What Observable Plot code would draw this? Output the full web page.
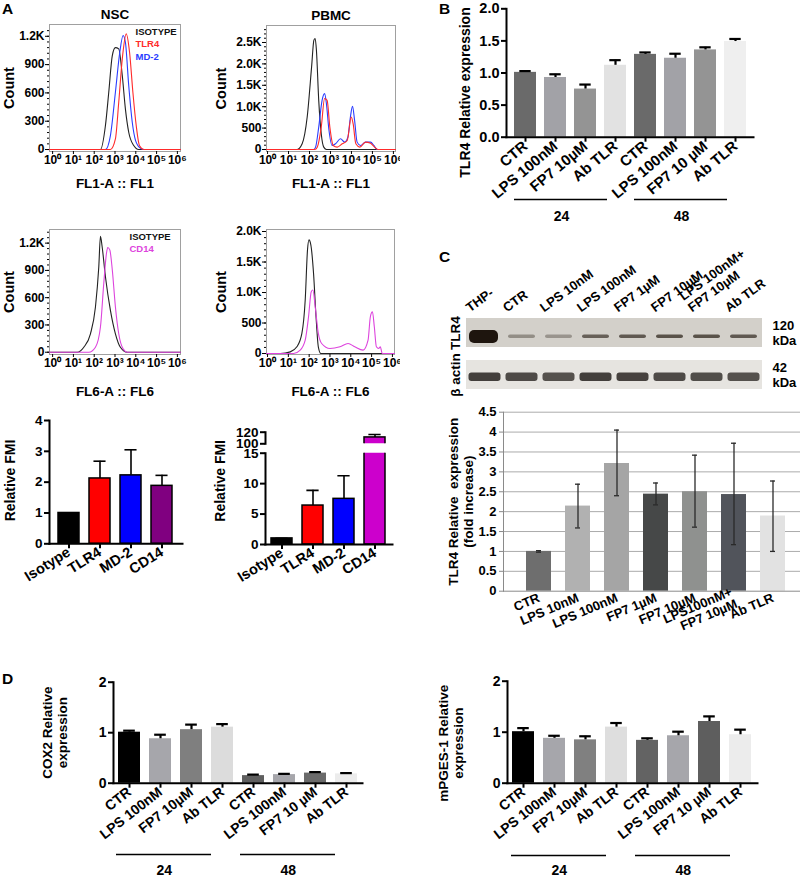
<!DOCTYPE html>
<html><head><meta charset="utf-8">
<script src="https://cdn.jsdelivr.net/npm/d3@7"></script>
<script src="https://cdn.jsdelivr.net/npm/@observablehq/plot@0.6"></script>
<style>
html,body{margin:0;padding:0;background:#fff;}
#fig{position:relative;width:800px;height:878px;overflow:hidden;background:#fff;font-family:'Liberation Sans',Arial,Helvetica,sans-serif;}
.letter{position:absolute;font-weight:bold;font-size:15.5px;line-height:15px;}
</style></head>
<body><div id="fig"></div>
<script>
// ======================= DATA =======================
const SUP = ["⁰","¹","²","³","⁴","⁵","⁶"];
const decades = [0,1,2,3,4,5,6];

// Panel A histograms: [log10 fluorescence, count]
const nscFl1Isotype = [[-0.15,0],[2.30,0],[2.54,254],[2.70,607],[2.87,996],[3.02,1080],[3.18,1067],[3.35,784],[3.50,431],[3.66,183],[3.90,42],[4.14,0],[6.15,0]];
const nscFl1TLR4 = [[-0.15,0],[2.78,0],[3.02,113],[3.18,501],[3.35,961],[3.54,1226],[3.70,1031],[3.86,607],[4.02,254],[4.18,39],[4.39,0],[6.15,0]];
const nscFl1MD2 = [[-0.15,0],[2.54,0],[2.78,148],[3.02,607],[3.23,1031],[3.39,1208],[3.50,1137],[3.66,678],[3.83,289],[3.99,95],[4.23,12],[4.39,0],[6.15,0]];

const pbmcFl1Isotype = [[-0.05,0],[1.41,0],[1.65,133],[1.89,758],[2.10,1930],[2.21,2555],[2.27,2594],[2.33,2320],[2.44,1148],[2.56,367],[2.68,55],[2.81,0],[6.1,0]];
const pbmcFl1MD2 = [[-0.05,0],[2.20,0],[2.29,55],[2.44,523],[2.60,1148],[2.72,1305],[2.81,1055],[2.92,484],[3.08,94],[3.24,133],[3.48,250],[3.67,172],[3.83,289],[3.95,758],[4.05,1008],[4.15,680],[4.27,172],[4.43,94],[4.67,172],[4.91,172],[5.07,94],[5.23,0],[6.1,0]];
const pbmcFl1TLR4 = [[-0.05,0],[2.25,0],[2.37,55],[2.56,523],[2.72,1190],[2.84,1148],[2.97,523],[3.13,94],[3.32,55],[3.56,133],[3.80,211],[3.99,758],[4.08,602],[4.21,133],[4.40,55],[4.67,172],[4.91,148],[5.10,55],[5.26,0],[6.1,0]];

const nscFl6Isotype = [[-0.15,0],[1.18,0],[1.50,55],[1.82,203],[2.06,498],[2.22,938],[2.30,1274],[2.38,1163],[2.54,830],[2.78,461],[3.02,203],[3.26,55],[3.59,0],[6.15,0]];
const nscFl6CD14 = [[-0.15,0],[1.74,0],[2.06,55],[2.30,277],[2.46,757],[2.59,1089],[2.65,1152],[2.75,1126],[2.87,905],[3.02,498],[3.18,203],[3.39,37],[3.59,0],[6.15,0]];

const pbmcFl6Isotype = [[-0.05,0],[0.62,0],[1.09,27],[1.41,110],[1.65,329],[1.81,877],[1.92,1699],[1.99,1863],[2.08,1781],[2.21,1315],[2.33,603],[2.44,110],[2.56,0],[6.1,0]];
const pbmcFl6CD14 = [[-0.05,0],[1.25,0],[1.57,55],[1.81,219],[1.97,603],[2.10,1014],[2.18,1041],[2.29,767],[2.44,329],[2.60,164],[3.00,82],[3.48,110],[3.87,164],[4.19,110],[4.59,55],[4.83,219],[4.94,603],[5.04,685],[5.13,438],[5.23,110],[5.34,82],[5.42,110],[5.51,0],[6.1,0]];

const nscCountTicks = [0,300,600,900,1200];
const nscCountLabels = ["0","300","600","900","1.2K"];
const pbmcFl1CountTicks = [0,500,1000,1500,2000,2500];
const pbmcFl1CountLabels = ["0","500","1.0K","1.5K","2.0K","2.5K"];
const pbmcFl6CountTicks = [0,500,1000,1500,2000];
const pbmcFl6CountLabels = ["0","500","1.0K","1.5K","2.0K"];

// Panel A relative FMI
const fmiMarkers = ["Isotype","TLR4","MD-2","CD14"];
const nscFmi = [1.0, 2.12, 2.22, 1.88];
const nscFmiErrTop = [1.0, 2.68, 3.05, 2.22];
const pbmcFmi = [1.0, 6.4, 7.5, 111];
const pbmcFmiErrTop = [1.0, 8.9, 11.3, 116];
const nscFmiColors = ["#000000","#ff0000","#0000ff","#800080"];
const pbmcFmiColors = ["#000000","#ff0000","#0000ff","#cc00cc"];

// Panel B
const treatLabels = ["CTR","LPS 100nM","FP7 10µM","Ab TLR","CTR","LPS 100nM","FP7 10 µM","Ab TLR"];
const treatHours = ["24","24","24","24","48","48","48","48"];
const bValues = [1.01,0.93,0.75,1.12,1.29,1.23,1.36,1.49];
const bErrTop = [1.03,0.98,0.82,1.20,1.32,1.30,1.40,1.53];
const bColors = ["#6a6a6a","#a2a2a7","#949494","#e2e2e2","#6a6a6a","#a2a2a7","#949494","#efefef"];
const bTicks = [0,0.5,1,1.5,2];

// Panel C blot
const blotLanes = ["THP-","CTR","LPS 10nM","LPS 100nM","FP7 1µM","FP7 10µM","LPS 100nM+\nFP7 10µM","Ab TLR"];
const blotRows = ["TLR4","β actin"];
const blotKDa = ["120\nkDa","42\nkDa"];
const tlr4Density = [1.0,0.38,0.34,0.64,0.68,0.72,0.72,0.68];
const actinDensity = [0.88,0.82,0.78,0.88,0.86,0.82,0.80,0.78];

// Panel C bars
const cLabels = ["CTR","LPS 10nM","LPS 100nM","FP7 1µM","FP7 10µM","LPS100nM+\nFP7 10µM","Ab TLR"];
const cValues = [1.0,2.14,3.21,2.44,2.50,2.43,1.89];
const cErrLow = [0.98,1.59,2.40,2.17,1.61,1.17,1.00];
const cErrHigh = [1.02,2.69,4.05,2.72,3.42,3.72,2.77];
const cColors = ["#6e6e6e","#b1b1b1","#a5a5a5","#464848","#8f918f","#51545b","#e2e2e2"];
const cTicks = [0,0.5,1,1.5,2,2.5,3,3.5,4,4.5];

// Panel D
const cox2Values = [1.01,0.88,1.06,1.11,0.15,0.17,0.20,0.185];
const cox2ErrTop = [1.04,0.96,1.16,1.17,0.17,0.185,0.22,0.20];
const cox2Colors = ["#000000","#a6a6ab","#7f7f7f","#dcdcdc","#5f5f5f","#a6a6ab","#6a6a6a","#ececec"];
const mpgesValues = [1.01,0.88,0.85,1.10,0.84,0.93,1.21,0.95];
const mpgesErrTop = [1.08,0.93,0.92,1.18,0.88,1.01,1.31,1.05];
const mpgesColors = ["#000000","#a6a6ab","#808080","#dedede","#636363","#a6a6ab","#5e5e5e","#ececec"];
const dTicks = [0,1,2];

// ======================= HELPERS =======================
const FONT = "'Liberation Sans', Arial, Helvetica, sans-serif";
const fig = document.getElementById("fig");
function place(node, left, top) {
  node.style.position = "absolute"; node.style.left = left + "px"; node.style.top = top + "px";
  fig.appendChild(node); return node;
}
function baseStyle(size, overflow = "visible") {
  return {fontFamily: FONT, fontWeight: "bold", fontSize: size + "px", background: "transparent", color: "#000", overflow, maxWidth: "none"};
}
function letter(t, left, top) {
  const d = document.createElement("div"); d.className = "letter"; d.textContent = t;
  d.style.left = left + "px"; d.style.top = top + "px"; fig.appendChild(d);
}
function yTitle(text, dx, dy, size) {
  return Plot.text([text], {frameAnchor: "left", textAnchor: "middle", lineAnchor: "middle", rotate: -90, dx, dy: dy || 0, fontSize: size, lineHeight: 1.1});
}

function hist(o) {
  const ml = o.frame.l - o.left, mr = o.left + o.width - o.frame.r, mt = o.frame.t - o.top, mb = o.top + o.height - o.frame.b;
  const lab = new Map(o.yTicks.map((t, i) => [t, o.yLabels[i]]));
  const marks = [
    Plot.frame({stroke: "#a0a0a0", strokeWidth: 1}),
    ...o.series.map(s => Plot.line(s.data, {x: d => d[0], y: d => d[1], stroke: s.color, strokeWidth: 1.1, curve: "monotone-x"})),
    Plot.axisY({ticks: o.minor, tickSize: 2, tickFormat: () => "", label: null}),
    Plot.axisY({ticks: o.yTicks, tickSize: 4, tickPadding: 1, tickFormat: d => lab.get(d), label: null}),
    Plot.axisX({ticks: decades, tickSize: 3, tickPadding: 1, tickFormat: d => "10" + SUP[d], label: null}),
    yTitle("Count", o.countDx, 0, 14.5),
    Plot.text([o.xLabel], {frameAnchor: "bottom", lineAnchor: "middle", dy: o.xLabelDy, fontSize: 13.5})
  ];
  if (o.title) marks.push(Plot.text([o.title], {frameAnchor: "top", lineAnchor: "middle", dy: -9.5, fontSize: 13.5}));
  (o.legend || []).forEach((g, k) => marks.push(Plot.text([g.label], {frameAnchor: "top-right", textAnchor: "start", lineAnchor: "middle", dx: o.legendDx, dy: o.legendDy[k], fill: g.color, fontSize: 9.5})));
  const p = Plot.plot({
    width: o.width, height: o.height, marginLeft: ml, marginRight: mr, marginTop: mt, marginBottom: mb,
    x: {domain: o.xDomain}, y: {domain: o.yDomain},
    style: baseStyle(12, o.clip ? "hidden" : "visible"), marks
  });
  place(p, o.left, o.top);
}

function prism(o) {
  const n = o.labels.length;
  const rows = o.labels.map((label, i) => ({i, label, v: o.values[i], hi: o.errTop[i], color: o.colors[i], group: o.hours ? o.hours[i] : null}));
  const ml = o.axisL - o.left, mr = o.left + o.width - o.axisR, mt = o.yTop - o.top, mb = o.top + o.height - o.yBottom;
  const step = (o.axisR - o.axisL) / (n - o.pi + 2 * o.po), bw = step * (1 - o.pi);
  const capInset = (bw - o.cap) / 2;
  const marks = [
    Plot.barY(rows, {x: "i", y: "v", fill: "color", stroke: o.barStroke ? "#000" : null, strokeWidth: 1.5, clip: !!o.clip}),
    Plot.ruleX(rows, {x: "i", y1: "v", y2: "hi", strokeWidth: o.errW || 2, clip: !!o.clip}),
    Plot.tickY(rows, {x: "i", y: "hi", strokeWidth: o.errW || 2, insetLeft: capInset, insetRight: capInset, clip: !!o.clip}),
    Plot.frame({anchor: "left", strokeWidth: 2}),
    Plot.axisY({ticks: o.yTicks, tickFormat: o.yFmt, tickSize: 5, tickPadding: 2, strokeWidth: 2, fontSize: o.yFont, label: null})
  ];
  if (!o.noX) {
    marks.push(Plot.frame({anchor: "bottom", strokeWidth: 2}));
    marks.push(Plot.axisX({tickFormat: i => o.labels[i], tickRotate: o.rotate, tickSize: 5, tickPadding: 2, strokeWidth: 2, fontSize: o.xFont, label: null}));
  } else {
    marks.push(Plot.axisX({ticks: [], tickSize: 0, label: null}));
  }
  if (o.ylabel) marks.push(yTitle(o.ylabel, o.ylabelDx, o.ylabelDy, o.ylabelFont || 14));
  if (o.hours) {
    const groups = d3.groups(rows, d => d.group).map(([name, g]) => ({name, first: g[0].i, second: g[1].i, last: g[g.length - 1].i}));
    marks.push(Plot.ruleY(groups, {y: 0, x1: "first", x2: "last", dy: o.gLineDy, insetLeft: o.gInsetL, insetRight: o.gInsetR, strokeWidth: 1.5}));
    marks.push(Plot.text(groups, {x: "second", y: 0, text: "name", dy: o.gTextDy, dx: step / 2 + (o.gInsetL - o.gInsetR) / 2, fontSize: o.gFont || 14}));
  }
  const p = Plot.plot({
    width: o.width, height: o.height, marginLeft: ml, marginRight: mr, marginTop: mt, marginBottom: mb,
    x: {domain: d3.range(n), paddingInner: o.pi, paddingOuter: o.po},
    y: {domain: o.yDomain},
    color: {type: "identity"},
    style: baseStyle(o.yFont || 13), marks
  });
  place(p, o.left, o.top);
}

// ======================= PANEL A =======================
hist({left: 0, top: 0, width: 200, height: 195, frame: {l: 49, r: 180, t: 24, b: 151},
  xDomain: [-0.15, 6.15], yDomain: [-21, 1325], yTicks: nscCountTicks, yLabels: nscCountLabels, minor: d3.range(0, 1320, 60),
  series: [{data: nscFl1Isotype, color: "#222"}, {data: nscFl1MD2, color: "#2a3cff"}, {data: nscFl1TLR4, color: "#ff2a2a"}],
  title: "NSC", xLabel: "FL1-A :: FL1", xLabelDy: 32, countDx: -41,
  legend: [{label: "ISOTYPE", color: "#111"}, {label: "TLR4", color: "#ff2a2a"}, {label: "MD-2", color: "#2a3cff"}], legendDx: -45, legendDy: [7, 19, 32]});

hist({left: 200, top: 0, width: 200, height: 195, frame: {l: 266, r: 395, t: 25, b: 151}, clip: true,
  xDomain: [-0.05, 6.1], yDomain: [-47, 2897], yTicks: pbmcFl1CountTicks, yLabels: pbmcFl1CountLabels, minor: d3.range(0, 2890, 100),
  series: [{data: pbmcFl1Isotype, color: "#222"}, {data: pbmcFl1MD2, color: "#2a3cff"}, {data: pbmcFl1TLR4, color: "#ff2a2a"}],
  title: "PBMC", xLabel: "FL1-A :: FL1", xLabelDy: 32, countDx: -46});

hist({left: 0, top: 200, width: 200, height: 200, frame: {l: 49, r: 180, t: 229, b: 354},
  xDomain: [-0.15, 6.15], yDomain: [-25, 1350], yTicks: nscCountTicks, yLabels: nscCountLabels, minor: d3.range(0, 1345, 60),
  series: [{data: nscFl6Isotype, color: "#222"}, {data: nscFl6CD14, color: "#dd44dd"}],
  xLabel: "FL6-A :: FL6", xLabelDy: 37, countDx: -41,
  legend: [{label: "ISOTYPE", color: "#111"}, {label: "CD14", color: "#dd44dd"}], legendDx: -51, legendDy: [7, 19]});

hist({left: 200, top: 200, width: 200, height: 200, frame: {l: 266, r: 394, t: 229, b: 354}, clip: true,
  xDomain: [-0.05, 6.1], yDomain: [-16, 2033], yTicks: pbmcFl6CountTicks, yLabels: pbmcFl6CountLabels, minor: d3.range(0, 2030, 100),
  series: [{data: pbmcFl6Isotype, color: "#222"}, {data: pbmcFl6CD14, color: "#dd44dd"}],
  xLabel: "FL6-A :: FL6", xLabelDy: 37, countDx: -46});

// NSC relative FMI
prism({labels: fmiMarkers, values: nscFmi, errTop: nscFmiErrTop, colors: nscFmiColors, barStroke: true,
  left: 0, top: 400, width: 200, height: 190, axisL: 49, axisR: 182, yTop: 420, yBottom: 543.3,
  yDomain: [0, 4], yTicks: [0,1,2,3,4], yFmt: d => `${d}`, pi: 0.31, po: 0.25, cap: 13, errW: 1.6,
  rotate: -32, xFont: 14.5, yFont: 13.5, ylabel: "Relative FMI", ylabelDx: -39, ylabelDy: -1.7, ylabelFont: 14});

// PBMC relative FMI (broken axis): lower segment
prism({labels: fmiMarkers, values: pbmcFmi, errTop: pbmcFmiErrTop, colors: pbmcFmiColors, barStroke: true, clip: true,
  left: 200, top: 445, width: 200, height: 145, axisL: 265, axisR: 392, yTop: 452.7, yBottom: 544,
  yDomain: [0, 15], yTicks: [0,5,10,15], yFmt: d => `${d}`, pi: 0.32, po: 0.145, cap: 13, errW: 1.6,
  rotate: -32, xFont: 14.5, yFont: 13.5, ylabel: "Relative FMI", ylabelDx: -45, ylabelDy: -18, ylabelFont: 14});
// upper segment
prism({labels: fmiMarkers, values: pbmcFmi, errTop: pbmcFmiErrTop, colors: pbmcFmiColors, barStroke: true, clip: true, noX: true,
  left: 200, top: 420, width: 200, height: 30, axisL: 265, axisR: 392, yTop: 431.7, yBottom: 443.3,
  yDomain: [100, 120], yTicks: [100, 120], yFmt: d => `${d}`, pi: 0.32, po: 0.145, cap: 13, errW: 1.6, yFont: 13.5});

// ======================= PANEL B =======================
prism({labels: treatLabels, hours: treatHours, values: bValues, errTop: bErrTop, colors: bColors,
  left: 400, top: 0, width: 400, height: 240, axisL: 506, axisR: 753, yTop: 8.3, yBottom: 136.7,
  yDomain: [0, 2], yTicks: bTicks, yFmt: ".1f", pi: 0.27, po: 0.12, cap: 12, errW: 2.2,
  rotate: -40, xFont: 15, yFont: 14.5, ylabel: "TLR4 Relative expression", ylabelDx: -41, ylabelDy: 19.5, ylabelFont: 14,
  gLineDy: 62.3, gTextDy: 79.3, gInsetL: 0, gInsetR: 19, gFont: 14});

// ======================= PANEL C (blot) =======================
{
  const cells = blotRows.flatMap(r => blotLanes.map(l => ({lane: l, row: r})));
  const tlr = blotLanes.map((lane, i) => ({lane, density: tlr4Density[i]}));
  const act = blotLanes.map((lane, i) => ({lane, density: actinDensity[i]}));
  const p = Plot.plot({
    width: 400, height: 160, marginLeft: 64, marginRight: 36, marginTop: 77, marginBottom: 10,
    x: {domain: blotLanes, padding: 0, axis: null},
    y: {domain: blotRows, paddingInner: 0.3, paddingOuter: 0, axis: null},
    opacity: {domain: [0, 1], range: [0, 1]},
    style: baseStyle(13),
    marks: [
      Plot.cell(cells, {x: "lane", y: "row", fill: d => d.row === "TLR4" ? "#d3d0ca" : "#e6e4e0"}),
      Plot.cell(tlr.filter(d => d.density < 1), {x: "lane", y: () => "TLR4", fill: "#2a2118", fillOpacity: "density", insetLeft: 5, insetRight: 5, insetTop: 16.5, insetBottom: 9, rx: 2}),
      Plot.cell(tlr.filter(d => d.density >= 1), {x: "lane", y: () => "TLR4", fill: "#1e150e", fillOpacity: "density", insetLeft: 3, insetRight: 5, insetTop: 12, insetBottom: 4, rx: 5}),
      Plot.cell(act, {x: "lane", y: () => "β actin", fill: "#2c2824", fillOpacity: "density", insetLeft: 2.5, insetRight: 2.5, insetTop: 12.5, insetBottom: 8, rx: 3}),
      Plot.text(blotLanes, {x: d => d, frameAnchor: "top", textAnchor: "start", lineAnchor: "bottom", rotate: -36, dx: -15, dy: -5, fontSize: 13, lineHeight: 1.1}),
      Plot.text(blotRows, {y: d => d, frameAnchor: "left", textAnchor: "middle", lineAnchor: "middle", rotate: -90, dx: -9, fontSize: 13.5}),
      Plot.text(blotRows, {y: d => d, text: (d, i) => blotKDa[i], frameAnchor: "right", textAnchor: "start", lineAnchor: "middle", dx: 8, fontSize: 13, lineHeight: 1.1})
    ]
  });
  place(p, 400, 240);
}

// ======================= PANEL C (bars) =======================
{
  const rows = cLabels.map((label, i) => ({i, label, v: cValues[i], lo: cErrLow[i], hi: cErrHigh[i], color: cColors[i]}));
  const n = rows.length, pi = 0.35, po = 0.39;
  const step = 297 / (n - pi + 2 * po), bw = step * (1 - pi), capInset = (bw - 6) / 2;
  const p = Plot.plot({
    width: 400, height: 260, marginLeft: 103, marginRight: 0, marginTop: 11.7, marginBottom: 69.3,
    x: {domain: d3.range(n), paddingInner: pi, paddingOuter: po, align: 0.6},
    y: {domain: [0, 4.5]},
    color: {type: "identity"},
    style: baseStyle(12.5),
    marks: [
      Plot.ruleY(cTicks.filter(t => t > 0), {stroke: "#ababab", strokeWidth: 1}),
      Plot.barY(rows, {x: "i", y: "v", fill: "color"}),
      Plot.ruleX(rows, {x: "i", y1: "lo", y2: "hi", stroke: "#2a2a2a", strokeWidth: 1.3}),
      Plot.tickY(rows, {x: "i", y: "lo", stroke: "#2a2a2a", strokeWidth: 1.3, insetLeft: capInset, insetRight: capInset}),
      Plot.tickY(rows, {x: "i", y: "hi", stroke: "#2a2a2a", strokeWidth: 1.3, insetLeft: capInset, insetRight: capInset}),
      Plot.frame({anchor: "left", stroke: "#8a8a8a"}),
      Plot.frame({anchor: "bottom", stroke: "#8a8a8a"}),
      Plot.axisY({ticks: cTicks, tickFormat: d => `${d}`, tickSize: 4, tickPadding: 3, stroke: "#8a8a8a", fontSize: 13, label: null}),
      Plot.axisX({tickFormat: i => cLabels[i], tickRotate: -23, tickSize: 0, tickPadding: 6, fontSize: 13, label: null}),
      yTitle("TLR4 Relative  expression\n(fold increase)", -43, 0, 13.5)
    ]
  });
  place(p, 400, 400);
}

// ======================= PANEL D =======================
prism({labels: treatLabels, hours: treatHours, values: cox2Values, errTop: cox2ErrTop, colors: cox2Colors,
  left: 0, top: 650, width: 400, height: 228, axisL: 113, axisR: 362, yTop: 681.7, yBottom: 782.7,
  yDomain: [0, 2], yTicks: dTicks, yFmt: d => `${d}`, pi: 0.29, po: 0.1, cap: 12, errW: 2.2,
  rotate: -38, xFont: 14, yFont: 14, ylabel: "COX2 Relative\nexpression", ylabelDx: -58.5, ylabelDy: 0, ylabelFont: 13.5,
  gLineDy: 71.3, gTextDy: 87.3, gInsetL: -2, gInsetR: 22, gFont: 14});

prism({labels: treatLabels, hours: treatHours, values: mpgesValues, errTop: mpgesErrTop, colors: mpgesColors,
  left: 400, top: 650, width: 400, height: 228, axisL: 507, axisR: 757, yTop: 680.7, yBottom: 782.7,
  yDomain: [0, 2], yTicks: dTicks, yFmt: d => `${d}`, pi: 0.29, po: 0.1, cap: 12, errW: 2.2,
  rotate: -38, xFont: 14, yFont: 14, ylabel: "mPGES-1 Relative\nexpression", ylabelDx: -56.5, ylabelDy: 11, ylabelFont: 13.5,
  gLineDy: 72.3, gTextDy: 87.3, gInsetL: -1, gInsetR: 21, gFont: 14});

// ======================= PANEL LETTERS =======================
letter("A", 2, 0.8);
letter("B", 439, 0.6);
letter("C", 439, 249);
letter("D", 2, 670.6);
</script>
</body></html>
